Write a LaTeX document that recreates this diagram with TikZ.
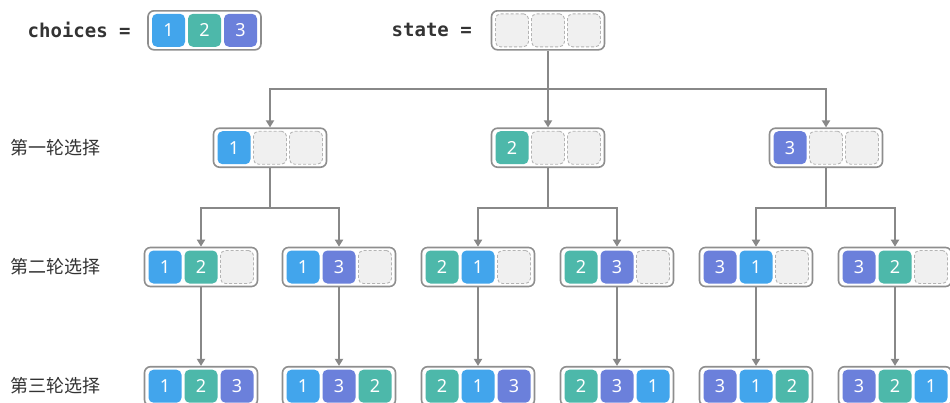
\documentclass[tikz,border=0pt]{standalone}
\usepackage{fontspec}
\setsansfont{Noto Sans}
\newfontfamily\cjk{Noto Sans CJK SC}
\newfontfamily\monofam{DejaVu Sans Mono}
\usetikzlibrary{arrows.meta}
\definecolor{cone}{HTML}{42A5EC}
\definecolor{ctwo}{HTML}{4DB8AA}
\definecolor{cthree}{HTML}{6B80DB}
\definecolor{cempty}{HTML}{F0F0F0}
\definecolor{cemptyb}{HTML}{B4B4B4}
\definecolor{boxgray}{HTML}{8E8E8E}
\definecolor{linegray}{HTML}{888888}
\definecolor{txt}{HTML}{333333}
\tikzset{
  outer/.style={draw=boxgray, line width=1.6pt, fill=white, rounded corners=6pt,
    minimum width=113pt, minimum height=39pt, inner sep=0pt},
  cell/.style={minimum size=33pt, inner sep=0pt, rounded corners=5pt, text=white,
    font=\sffamily\fontsize{18}{18}\selectfont},
  c1/.style={cell, fill=cone, node contents={1}},
  c2/.style={cell, fill=ctwo, node contents={2}},
  c3/.style={cell, fill=cthree, node contents={3}},
  ce/.style={cell, fill=cempty, draw=cemptyb, line width=0.9pt, dash pattern=on 3pt off 2pt, node contents={}},
  conn/.style={draw=linegray, line width=2pt},
  arr/.style={conn, -{Triangle[length=7pt,width=8pt]}},
  lvl/.style={anchor=west, text=txt, font=\cjk\fontsize{18}{18}\selectfont, inner sep=0pt},
  code/.style={anchor=west, text=txt, font=\monofam\bfseries\fontsize{19}{19}\selectfont, inner sep=0pt}
}
\newcommand\stbox[6]{%
  \node[outer] (#1) at (#2,#3) {};
  \node (#1a) at (#2-36,#3) [c#4];
  \node (#1b) at (#2,#3) [c#5];
  \node (#1c) at (#2+36,#3) [c#6];
}
\begin{document}
\begin{tikzpicture}[x=1pt,y=-1pt]
\useasboundingbox (0,0) rectangle (950,402);
\clip (0,0) rectangle (950,402);
\fill[white] (0,0) rectangle (950,402);
% header
\node[code] (lch) at (27.5,30.3) {choices =};
\stbox{ch}{204.5}{30.3}{1}{2}{3}
\node[code] (lst) at (391.5,30.3) {state =};
\stbox{S}{548}{30.3}{e}{e}{e}
% level labels
\node[lvl] (l1) at (10,147.7) {第一轮选择};
\node[lvl] (l2) at (10,267) {第二轮选择};
\node[lvl] (l3) at (10,386) {第三轮选择};
% level 1
\stbox{A}{270}{147.7}{1}{e}{e}
\stbox{B}{548}{147.7}{2}{e}{e}
\stbox{C}{826}{147.7}{3}{e}{e}
% level 2
\stbox{AA}{201}{267}{1}{2}{e}
\stbox{AB}{339}{267}{1}{3}{e}
\stbox{BA}{478}{267}{2}{1}{e}
\stbox{BB}{617}{267}{2}{3}{e}
\stbox{CA}{756}{267}{3}{1}{e}
\stbox{CB}{895}{267}{3}{2}{e}
% level 3
\stbox{AAx}{201}{386.2}{1}{2}{3}
\stbox{ABx}{339}{386.2}{1}{3}{2}
\stbox{BAx}{478}{386.2}{2}{1}{3}
\stbox{BBx}{617}{386.2}{2}{3}{1}
\stbox{CAx}{756}{386.2}{3}{1}{2}
\stbox{CBx}{895}{386.2}{3}{2}{1}
% connectors
\coordinate (j0) at (548,89);
\draw[conn] (S.south) -- (j0);
\draw[arr] (j0) -| (A.north);
\draw[arr] (j0) -- (B.north);
\draw[arr] (j0) -| (C.north);
\coordinate (jA) at (270,208);
\coordinate (jB) at (548,208);
\coordinate (jC) at (826,208);
\draw[conn] (A.south) -- (jA);
\draw[conn] (B.south) -- (jB);
\draw[conn] (C.south) -- (jC);
\draw[arr] (jA) -| (AA.north);
\draw[arr] (jA) -| (AB.north);
\draw[arr] (jB) -| (BA.north);
\draw[arr] (jB) -| (BB.north);
\draw[arr] (jC) -| (CA.north);
\draw[arr] (jC) -| (CB.north);
\draw[arr] (AA.south) -- (AAx.north);
\draw[arr] (AB.south) -- (ABx.north);
\draw[arr] (BA.south) -- (BAx.north);
\draw[arr] (BB.south) -- (BBx.north);
\draw[arr] (CA.south) -- (CAx.north);
\draw[arr] (CB.south) -- (CBx.north);
\end{tikzpicture}
\end{document}
